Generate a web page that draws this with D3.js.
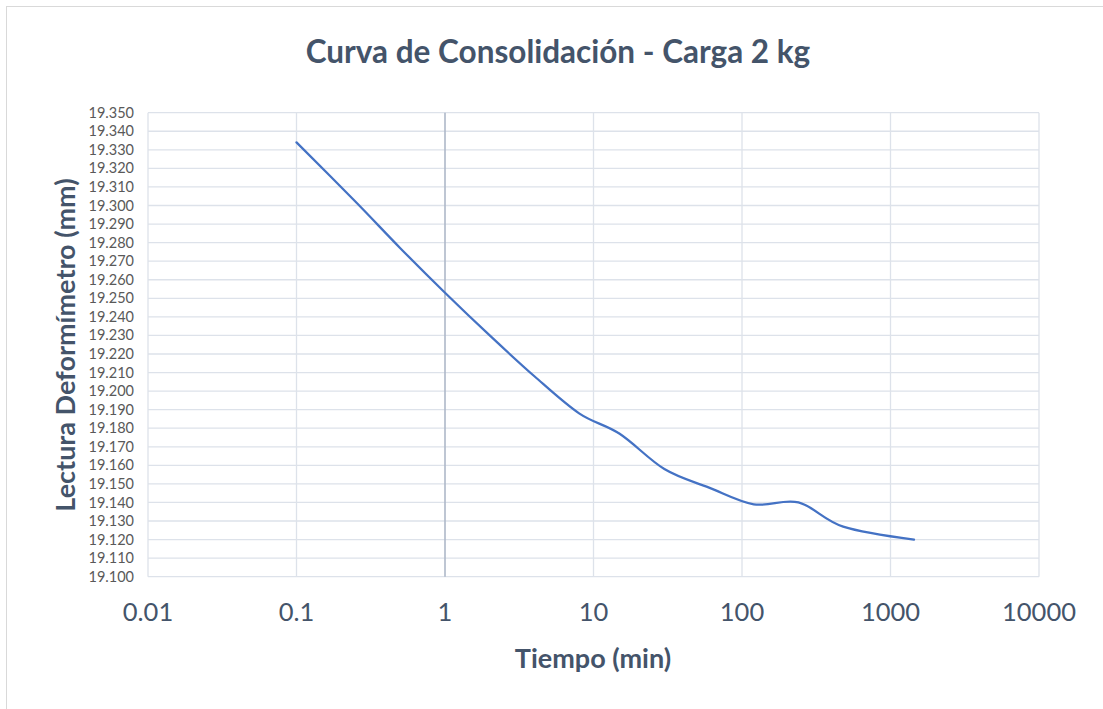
<!DOCTYPE html>
<html>
<head>
<meta charset="utf-8">
<script src="https://cdn.jsdelivr.net/npm/d3@7"></script>
<style>
  html, body { margin: 0; padding: 0; background: #ffffff; }
  svg { display: block; }
  text { font-family: Lato, "Open Sans", sans-serif; }
</style>
</head>
<body>
<svg id="chart" width="1103" height="709"></svg>
<script>
// Elapsed time of each reading (min)
const tiempos = [0.1, 0.25, 0.5, 1, 2, 4, 8, 15, 30, 60, 120, 240, 480, 1440];
// Dial gauge reading (mm)
const lecturas = [19.334, 19.302, 19.277, 19.253, 19.230, 19.208, 19.188, 19.177,
                  19.158, 19.148, 19.139, 19.140, 19.127, 19.120];
// Axis ticks
const xTicks = [0.01, 0.1, 1, 10, 100, 1000, 10000];
const xTickLabels = ["0.01", "0.1", "1", "10", "100", "1000", "10000"];
const yTicks = d3.range(0, 26).map(i => +(19.100 + i * 0.010).toFixed(3));

const titulo = "Curva de Consolidación - Carga 2 kg";
const tituloX = "Tiempo (min)";
const tituloY = "Lectura Deformímetro (mm)";

const svg = d3.select("#chart");
const plot = { left: 148, right: 1039, top: 112.7, bottom: 576.7 };
const textColor = "#44546a";

// chart frame
svg.append("rect")
  .attr("x", 6.5).attr("y", 6.5)
  .attr("width", 1200).attr("height", 800)
  .attr("fill", "#ffffff")
  .attr("stroke", "#d9d9d9").attr("stroke-width", 1);

const x = d3.scaleLog().domain([0.01, 10000]).range([plot.left, plot.right]);
const y = d3.scaleLinear().domain([19.100, 19.350]).range([plot.bottom, plot.top]);

// horizontal gridlines
svg.append("g").selectAll("line").data(yTicks).join("line")
  .attr("x1", plot.left).attr("x2", plot.right)
  .attr("y1", d => y(d)).attr("y2", d => y(d))
  .attr("stroke", "#dde2ea").attr("stroke-width", 1.3);

// vertical gridlines (value axis crosses at 1)
svg.append("g").selectAll("line").data(xTicks).join("line")
  .attr("x1", d => x(d)).attr("x2", d => x(d))
  .attr("y1", plot.top).attr("y2", plot.bottom)
  .attr("stroke", d => d === 1 ? "#aeb8c8" : "#dde2ea")
  .attr("stroke-width", d => d === 1 ? 1.6 : 1.3);

// y tick labels
svg.append("g").selectAll("text").data(yTicks).join("text")
  .attr("x", 134).attr("y", d => y(d))
  .attr("dy", "0.35em")
  .attr("text-anchor", "end")
  .attr("font-size", 14.5)
  .attr("fill", "#595959")
  .text(d => d3.format(".3f")(d));

// x tick labels
svg.append("g").selectAll("text").data(xTicks).join("text")
  .attr("x", d => x(d)).attr("y", 612)
  .attr("dy", "0.35em")
  .attr("text-anchor", "middle")
  .attr("font-size", 25.5)
  .attr("fill", textColor)
  .text((d, i) => xTickLabels[i]);

// data line
const line = d3.line()
  .x((d, i) => x(tiempos[i]))
  .y(d => y(d))
  .curve(d3.curveCatmullRom.alpha(0));

svg.append("path")
  .datum(lecturas)
  .attr("d", line)
  .attr("fill", "none")
  .attr("stroke", "#4472c4")
  .attr("stroke-width", 2.25)
  .attr("stroke-linecap", "round");

// titles
svg.append("text")
  .attr("x", 558).attr("y", 52)
  .attr("dy", "0.35em")
  .attr("text-anchor", "middle")
  .attr("font-size", 31.5).attr("font-weight", "bold")
  .attr("fill", textColor)
  .text(titulo);

svg.append("text")
  .attr("x", 593).attr("y", 659)
  .attr("dy", "0.35em")
  .attr("text-anchor", "middle")
  .attr("font-size", 27).attr("font-weight", "bold")
  .attr("fill", textColor)
  .text(tituloX);

svg.append("text")
  .attr("transform", "translate(66,345) rotate(-90)")
  .attr("dy", "0.35em")
  .attr("text-anchor", "middle")
  .attr("font-size", 27).attr("font-weight", "bold")
  .attr("fill", textColor)
  .text(tituloY);
</script>
</body>
</html>
